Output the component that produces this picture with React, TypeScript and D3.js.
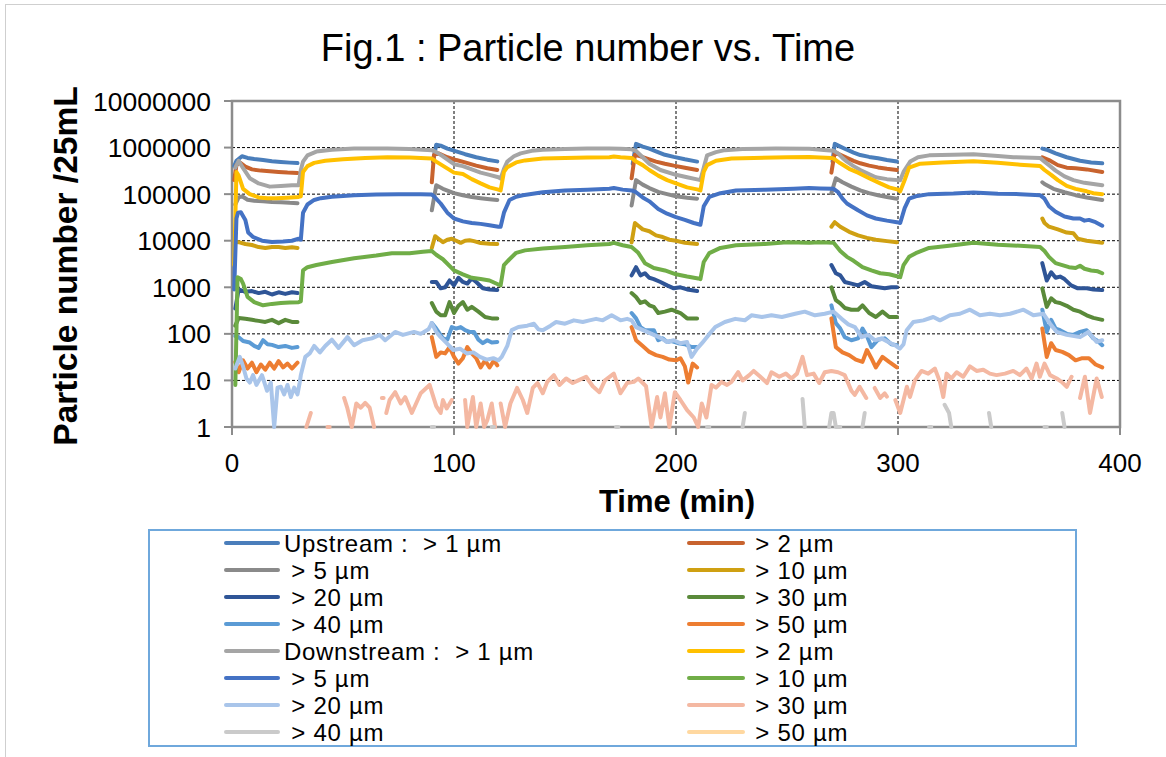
import React from 'react';
import * as d3 from 'd3';

type P = [number, number];

const xTicks = [0, 100, 200, 300, 400];
const yTicks = [1, 10, 100, 1000, 10000, 100000, 1000000, 10000000];
const yTickLabels = ['1', '10', '100', '1000', '10000', '100000', '1000000', '10000000'];

// Upstream
const up1: P[] = [
  [1, 400000], [2, 520000], [4.5, 650000], [7, 600000], [10, 570000], [14, 540000], [18, 510000], [22, 490000], [26, 475000], [29.5, 465000], [30, 0],
  [90.5, 500000], [92, 1150000], [94, 1100000], [97, 950000], [101, 830000], [105, 720000], [110, 620000], [115, 550000], [119.5, 505000], [120, 0],
  [180.5, 450000], [182, 1200000], [185, 1050000], [188, 950000], [191, 830000], [195, 700000], [199, 630000], [204, 560000], [209.5, 500000], [210, 0],
  [270.5, 500000], [271.5, 1200000], [274, 1050000], [277, 900000], [280, 780000], [283, 690000], [287, 630000], [291, 590000], [295, 540000], [299.5, 500000], [300, 0],
  [365, 950000], [367, 900000], [371, 750000], [376, 620000], [382, 520000], [387, 480000], [392, 460000],
];
const up2: P[] = [
  [1, 200000], [2, 420000], [3.5, 480000], [6, 390000], [9, 340000], [13, 320000], [17, 310000], [21, 300000], [25, 290000], [29.5, 285000], [30, 0],
  [90, 180000], [91, 700000], [93, 750000], [97, 620000], [101, 540000], [105, 480000], [110, 410000], [115, 360000], [119.5, 330000], [120, 0],
  [180, 220000], [181.5, 700000], [184, 650000], [188, 560000], [191, 500000], [195, 450000], [199, 410000], [204, 370000], [209.5, 330000], [210, 0],
  [270, 290000], [271.5, 800000], [274, 700000], [277, 600000], [280, 520000], [283, 460000], [287, 410000], [291, 375000], [295, 350000], [299.5, 330000], [300, 0],
  [365, 620000], [368, 540000], [372, 420000], [376, 370000], [380, 360000], [385, 340000], [392, 300000],
];
const up5: P[] = [
  [1.5, 60000], [3, 85000], [4.5, 90000], [7, 76000], [10, 72000], [14, 70000], [18, 68000], [22, 67000], [26, 65000], [29.5, 64000], [30, 0],
  [90, 45000], [92, 155000], [95, 130000], [100, 105000], [104, 95000], [108, 87000], [112, 82000], [116, 78000], [119.5, 75000], [120, 0],
  [180, 57000], [182, 200000], [185, 160000], [188, 135000], [192, 112000], [196, 100000], [200, 90000], [205, 84000], [209.5, 80000], [210, 0],
  [270, 105000], [272, 220000], [275, 180000], [279, 145000], [283, 120000], [287, 105000], [291, 95000], [295, 87000], [299.5, 80000], [300, 0],
  [365, 180000], [366, 165000], [370, 130000], [375, 110000], [380, 95000], [385, 85000], [392, 75000],
];
const up10: P[] = [
  [1.5, 9500], [3, 9300], [6, 8500], [9, 8100], [12, 7300], [15, 7000], [18, 7300], [21, 7300], [24, 7000], [27, 7200], [29.5, 7000], [30, 0],
  [90, 7000], [91.5, 12500], [93, 11000], [95, 9300], [97, 10500], [99, 11000], [101, 10000], [103, 9000], [105, 10000], [107, 10200], [109, 9800], [112, 8900], [116, 8600], [119.5, 8500], [120, 0],
  [180, 9200], [181.5, 24000], [183, 21000], [185, 17500], [188, 16000], [191, 13000], [194, 12000], [197, 10500], [200, 10000], [204, 9000], [209.5, 8500], [210, 0],
  [270, 20000], [271.5, 25000], [274, 20000], [278, 15500], [282, 13000], [286, 11500], [290, 10500], [295, 9800], [299.5, 9300], [300, 0],
  [365, 30000], [366, 24000], [368, 20000], [372, 17500], [376, 15000], [379, 14500], [381, 11000], [385, 10000], [392, 9000],
];
const up20: P[] = [
  [1.5, 350], [3, 900], [6, 800], [9, 830], [12, 750], [15, 800], [18, 700], [21, 780], [24, 720], [27, 780], [29.5, 750], [30, 0],
  [90, 1300], [92, 1300], [94, 950], [96, 1000], [98, 1400], [100, 1100], [102, 1600], [104, 1300], [106, 1200], [108, 1550], [110, 1300], [113, 950], [116, 900], [119.5, 870], [120, 0],
  [180, 1800], [182, 2700], [184, 1800], [186, 2000], [188, 1600], [190, 1500], [193, 1300], [196, 1100], [199, 950], [202, 1000], [205, 900], [209.5, 830], [210, 0],
  [270, 3000], [272, 2000], [274, 1800], [276, 1300], [279, 1200], [282, 1100], [285, 1300], [288, 1050], [291, 1000], [294, 950], [297, 1000], [299.5, 1000], [300, 0],
  [365, 3300], [367, 1400], [369, 2100], [371, 1600], [373, 1700], [375, 1500], [378, 1100], [381, 950], [385, 950], [388, 900], [392, 870],
];
const up30: P[] = [
  [1.5, 150], [3, 220], [6, 210], [9, 200], [12, 190], [15, 180], [18, 200], [21, 170], [24, 200], [27, 180], [29.5, 180], [30, 0],
  [90, 460], [92, 300], [94, 250], [96, 250], [98, 480], [100, 280], [102, 400], [104, 480], [106, 330], [108, 380], [111, 300], [114, 230], [117, 215], [119.5, 215], [120, 0],
  [180, 750], [182, 620], [184, 460], [186, 500], [188, 410], [190, 380], [192, 280], [195, 300], [198, 330], [202, 280], [205, 215], [209.5, 215], [210, 0],
  [270, 1000], [272, 530], [274, 450], [276, 360], [279, 330], [282, 330], [284, 410], [287, 280], [290, 230], [293, 300], [296, 230], [299.5, 230], [300, 0],
  [365, 950], [367, 380], [369, 580], [371, 480], [373, 460], [376, 400], [379, 330], [382, 300], [385, 250], [388, 220], [392, 200],
];
const up40: P[] = [
  [1.5, 90], [3, 85], [5, 70], [8, 65], [10, 55], [12, 50], [14, 73], [16, 60], [18, 58], [21, 52], [24, 55], [27, 50], [29.5, 52], [30, 0],
  [90, 170], [92, 130], [95, 80], [97, 75], [99, 140], [101, 130], [103, 140], [105, 120], [107, 110], [109, 110], [111, 75], [113, 63], [115, 73], [117, 65], [119.5, 67], [120, 0],
  [180, 280], [182, 215], [184, 140], [186, 120], [188, 120], [190, 120], [192, 73], [194, 80], [196, 67], [198, 70], [201, 63], [204, 60], [207, 52], [209.5, 52], [210, 0],
  [270, 410], [272, 170], [274, 130], [276, 85], [279, 73], [282, 80], [284, 130], [286, 90], [288, 52], [291, 75], [294, 80], [297, 60], [299.5, 57], [300, 0],
  [365, 330], [367, 110], [369, 200], [371, 130], [373, 120], [376, 100], [379, 95], [382, 110], [385, 120], [388, 80], [390, 70], [392, 57],
];
const up50: P[] = [
  [1.5, 25], [3, 15], [5, 27], [7, 18], [9, 24], [11, 15], [13, 22], [15, 17], [17, 24], [19, 18], [21, 26], [23, 19], [25, 23], [27, 18], [29.5, 24], [30, 0],
  [90, 85], [92, 32], [94, 40], [96, 38], [98, 52], [100, 32], [102, 23], [104, 30], [106, 52], [108, 38], [110, 30], [112, 19], [114, 27], [116, 19], [118, 27], [119.5, 21], [120, 0],
  [180, 140], [182, 73], [185, 55], [188, 41], [191, 35], [194, 32], [197, 28], [200, 27], [202, 30], [204, 20], [205.5, 9], [207.5, 23], [209.5, 19], [210, 0],
  [270, 215], [272, 52], [275, 40], [278, 35], [281, 28], [284, 25], [286, 45], [288, 30], [290, 19], [293, 32], [296, 25], [299.5, 19], [300, 0],
  [365, 130], [367, 32], [369, 63], [371, 45], [374, 41], [377, 35], [380, 27], [383, 30], [386, 30], [389, 22], [392, 19],
];

// Downstream
const dn1: P[] = [
  [1.5, 370000], [3, 520000], [5, 360000], [8, 220000], [12, 170000], [17, 145000], [22, 150000], [27, 155000], [30, 155000],
  [31, 330000], [32, 500000], [34, 680000], [38, 820000], [45, 900000], [55, 950000], [70, 950000], [80, 930000], [90, 880000],
  [92, 800000], [95, 650000], [100, 440000], [104, 400000], [108, 340000], [112, 290000], [116, 260000], [120, 230000], [121, 215000],
  [122.5, 350000], [124, 500000], [127, 650000], [130, 750000], [135, 850000], [140, 900000], [150, 930000], [160, 950000], [170, 950000], [175, 940000], [180, 920000],
  [182, 850000], [185, 620000], [188, 450000], [193, 330000], [200, 260000], [205, 230000], [210, 205000], [211, 200000],
  [212.5, 370000], [214, 680000], [218, 800000], [222, 880000], [230, 930000], [245, 950000], [260, 940000], [268, 880000], [271, 850000],
  [273, 750000], [275, 600000], [277, 500000], [280, 400000], [283, 330000], [290, 230000], [295, 210000], [300, 200000], [301, 198000],
  [302.5, 300000], [305.5, 500000], [309, 620000], [314, 680000], [325, 700000], [334, 720000], [345, 660000], [352, 620000], [364, 600000],
  [366, 500000], [368, 420000], [371, 320000], [375, 240000], [379, 200000], [384, 175000], [388, 165000], [392, 155000],
];
const dn2: P[] = [
  [1, 3000], [2, 300000], [3, 250000], [5, 130000], [8, 100000], [12, 85000], [16, 82000], [20, 82000], [25, 84000], [30, 87000], [31, 90000],
  [32, 300000], [34, 400000], [37, 470000], [42, 520000], [50, 560000], [60, 600000], [70, 620000], [80, 610000], [90, 580000],
  [92, 500000], [96, 380000], [100, 290000], [104, 270000], [108, 210000], [112, 170000], [116, 140000], [120, 125000], [121, 120000],
  [122.5, 300000], [124, 380000], [128, 480000], [132, 530000], [140, 580000], [150, 600000], [160, 610000], [170, 620000], [172, 640000], [175, 620000], [180, 600000],
  [182, 500000], [185, 420000], [188, 330000], [192, 250000], [196, 200000], [200, 170000], [205, 140000], [210, 125000], [211, 120000],
  [212.5, 300000], [214, 420000], [218, 520000], [225, 580000], [235, 600000], [250, 620000], [260, 630000], [270, 600000], [271, 580000],
  [274, 460000], [278, 350000], [282, 290000], [287, 220000], [292, 170000], [296, 140000], [300, 125000], [301, 115000],
  [303, 200000], [305, 370000], [310, 450000], [320, 480000], [334, 510000], [345, 470000], [355, 430000], [364, 400000],
  [366, 330000], [369, 260000], [372, 200000], [376, 150000], [380, 130000], [385, 115000], [388, 105000], [392, 100000],
];
const dn5: P[] = [
  [1, 900], [2, 30000], [2.7, 40000], [4, 41000], [6, 28000], [7.3, 15000], [9.5, 12000], [13.5, 10000], [18, 9400], [23, 9600], [27, 10000], [30, 11000], [31, 10500],
  [32, 40000], [34, 60000], [37, 75000], [40, 82000], [45, 88000], [55, 95000], [65, 98000], [75, 100000], [85, 100000], [90, 98000],
  [91, 90000], [94, 63000], [97, 40000], [100, 30000], [104, 26000], [108, 24000], [112, 23000], [116, 21500], [120, 20000], [121, 20000],
  [122.5, 40000], [125, 75000], [128, 88000], [131, 95000], [140, 110000], [150, 120000], [160, 125000], [170, 130000], [172, 135000], [176, 125000], [180, 120000],
  [182, 110000], [185, 85000], [188, 70000], [192, 48000], [196, 38000], [200, 32000], [204, 28000], [208, 24000], [211, 22000],
  [212.5, 55000], [215, 87000], [220, 105000], [227, 120000], [240, 125000], [253, 130000], [260, 135000], [265, 132000], [271, 130000],
  [273, 110000], [275, 80000], [277, 63000], [279, 55000], [282, 45000], [286, 35000], [290, 30000], [295, 27000], [299.5, 25000], [301, 24000],
  [303, 50000], [305, 80000], [308, 90000], [314, 100000], [325, 103000], [334, 108000], [345, 102000], [355, 100000], [364, 95000],
  [366, 80000], [368, 55000], [371, 42000], [375, 33000], [379, 30000], [382, 30000], [384, 27000], [386, 28000], [389, 25000], [392, 21000],
];
const dn10: P[] = [
  [1.5, 8], [2.5, 1650], [4, 1500], [5, 1200], [7, 620], [10, 480], [14, 410], [18, 440], [22, 460], [26, 470], [30, 480], [31, 500],
  [32, 2300], [34, 2700], [38, 3000], [45, 3500], [55, 4200], [65, 4800], [72, 5400], [80, 5400], [86, 5800], [90, 6000],
  [92, 5000], [95, 4000], [100, 2300], [104, 1900], [108, 1600], [112, 1500], [116, 1400], [120, 1150], [121, 1100],
  [122.5, 3000], [125, 4000], [128, 5500], [132, 6200], [140, 6800], [150, 7300], [160, 8000], [170, 8500], [172, 9000], [176, 8000], [180, 7300],
  [183, 5500], [186, 3300], [190, 2600], [195, 2300], [200, 1900], [205, 1700], [210, 1550], [211, 1500],
  [212.5, 3500], [215, 5400], [220, 7000], [227, 8000], [240, 8500], [250, 9300], [260, 9000], [265, 9300], [271, 9000],
  [274, 6000], [277, 4500], [280, 3700], [284, 2700], [288, 2300], [292, 2000], [296, 1900], [300, 1700], [301, 1650],
  [302.5, 3000], [305, 4500], [308, 5400], [314, 7000], [325, 8000], [334, 9000], [345, 8200], [355, 7800], [364, 7300],
  [366, 6000], [368, 4500], [371, 3300], [374, 3000], [377, 2700], [380, 2600], [382, 2900], [384, 2500], [387, 2300], [390, 2200], [392, 2000],
];
const dn20: P[] = [
  [1.5, 18], [3.5, 32], [5, 20], [6.5, 11], [8, 9], [9.5, 13], [11, 8], [13.5, 13], [15.8, 6], [17.5, 9], [19, 1], [20.5, 7], [22, 7.3], [23.5, 5], [25, 8], [26.5, 4.4], [28, 7], [29.5, 5], [30.5, 9],
  [31, 13], [33, 32], [35, 38], [37, 55], [39.6, 40], [42, 55], [45, 75], [48, 50], [52, 85], [55, 57], [58.8, 73], [63, 80], [66.5, 95], [69, 73], [73.5, 110], [77, 95], [82, 110], [85, 100], [88.5, 125], [90, 170],
  [92, 110], [94, 85], [96.7, 63], [99.7, 45], [102.7, 48], [105.7, 38], [108.7, 40], [111.7, 32], [114.7, 28], [117.7, 30], [120, 27], [121.5, 32],
  [124, 55], [126, 120], [129, 140], [133, 150], [136, 165], [138, 125], [140, 120], [143.5, 150], [146, 180], [150, 165], [154, 195], [158, 180], [161, 195], [164, 210], [167, 195], [171, 250], [175, 195], [178, 210], [180, 195],
  [182, 140], [187, 110], [193, 82], [196, 67], [199, 73], [202, 63], [205, 67], [207, 32], [209.5, 48], [211.7, 63],
  [214.7, 95], [217.7, 140], [222, 180], [226.7, 210], [231, 195], [234, 250], [238.7, 230], [243, 250], [247.7, 230], [253.7, 270], [258, 300], [262.6, 250], [267, 270], [271, 300],
  [274.6, 210], [277.6, 160], [280.6, 140], [283.6, 85], [286.6, 95], [289.6, 73], [292.6, 80], [295.6, 67], [298.6, 57], [300.8, 48], [302.5, 60],
  [303.9, 120], [306.9, 180], [311.4, 195], [315.9, 230], [318.9, 195], [323.4, 250], [327.9, 270], [332.4, 330], [336.9, 250], [341.4, 270], [345.9, 250], [350.5, 270], [356.5, 330], [361, 250], [365.5, 270],
  [368.5, 165], [371.5, 110], [376, 95], [382, 85], [385.8, 110], [389.5, 67], [392, 73],
];
const dn30: P[] = [
  [33.5, 1], [35.5, 2], [36, 0],
  [43, 1], [44, 1], [44.5, 0],
  [50.5, 4.2], [52, 2.5], [54, 1], [56, 3.2], [58, 2.6], [60, 3.3], [62, 2.6], [64, 1], [65, 0],
  [67.5, 4.2], [68.3, 4.2], [68.8, 0],
  [69.5, 2], [71, 3.8], [73.5, 5.6], [76, 3.2], [78, 4.4], [81, 2], [85, 5.3], [89, 8], [92, 2.8], [94, 2], [95, 3.8], [96.7, 2.5], [99, 3.8], [100, 0],
  [105, 3.8], [106, 1], [108.5, 4.4], [110, 1], [112, 3.2], [113.6, 1], [115, 1.4], [117, 3.2], [118.5, 1], [119, 0],
  [121, 3.2], [123, 1], [125.4, 3.2], [128.4, 6.9], [131, 3.8], [133, 2], [135.5, 6.9], [137.6, 8.8], [140, 5.3], [142, 9.3], [145, 13], [147.5, 8], [150.5, 11], [153.5, 8.8], [156, 10], [159.5, 12], [162.5, 7.5], [165.5, 5.6], [168, 10], [172, 14], [175, 5.3], [178, 8.8], [181, 9.3], [183, 11], [186.5, 7.5],
  [189, 1], [191.5, 4.4], [193, 1.6], [195, 5.3], [197, 1], [199.5, 5.6], [202, 3.8], [205, 2.3], [208, 1.6], [210, 1], [211.6, 3.2], [213.7, 1.6],
  [216, 8], [218, 7], [220.5, 9.3], [223, 8], [225, 9.3], [228, 15], [230, 10], [233, 13], [235, 16], [238, 12], [241, 8.8], [243, 15], [246.5, 12], [249.5, 14], [252, 11], [254.5, 14], [257, 32], [259, 13], [262, 14], [264.5, 8.8], [267, 15], [270, 16], [273, 15], [276, 13],
  [279, 6], [280.5, 4.9], [282.7, 7.3], [285.7, 4.2], [286.5, 0],
  [289.5, 6.9], [292, 4.2], [294, 5.3], [295, 4.5], [296, 0],
  [298.8, 3.8], [301, 2], [304, 7.3], [305.4, 4.4], [307.6, 10], [310.6, 16], [313.6, 14], [316.6, 18], [318.9, 9.3], [320.4, 4.4], [321.9, 14], [324, 11], [326.4, 15], [329.4, 12], [332.4, 20], [335.4, 16], [338.4, 17], [341.4, 14], [344.4, 13], [348.2, 14], [351.9, 16], [354.9, 13], [357.9, 18], [360.2, 11], [362.4, 23], [363.9, 12], [366, 23], [368.5, 13], [371.5, 11], [373.7, 9.3], [376, 7.3], [378.2, 12], [379, 0],
  [382, 4.2], [384.2, 12], [386.5, 2], [389.5, 11], [391.8, 4.4],
];
const dn40: P[] = [
  [90, 1], [91, 1], [92, 0],
  [117, 1], [118, 1], [119, 0],
  [173, 1], [174, 1], [175, 0],
  [214, 1], [215, 1], [216, 0],
  [230, 1], [231, 2], [232, 0],
  [257, 4], [258, 1], [259, 0],
  [269, 1], [270, 2], [271, 2], [272, 1], [273, 1], [274, 1], [275, 0],
  [284, 1], [285, 2], [286, 0],
  [314, 1], [315, 1], [316, 0],
  [321, 3], [323, 2], [324, 1], [325, 0],
  [341, 2], [342, 1], [343, 0],
  [366, 1], [367, 1], [368, 0],
  [374, 2], [375, 1], [376, 0],
];
const dn50: P[] = [];

const seriesNames = [
  'Upstream :  > 1 µm', ' > 2 µm', ' > 5 µm', ' > 10 µm', ' > 20 µm', ' > 30 µm', ' > 40 µm', ' > 50 µm',
  'Downstream :  > 1 µm', ' > 2 µm', ' > 5 µm', ' > 10 µm', ' > 20 µm', ' > 30 µm', ' > 40 µm', ' > 50 µm',
];
const seriesData = [up1, up2, up5, up10, up20, up30, up40, up50, dn1, dn2, dn5, dn10, dn20, dn30, dn40, dn50];
const seriesColors = [
  '#4A7EBB', '#C8632E', '#8A8A8A', '#CFA012', '#2F5597', '#5A8A3A', '#5B9BD5', '#ED7D31',
  '#A5A5A5', '#FFC000', '#4472C4', '#70AD47', '#A9C5EA', '#F4B8A2', '#CACACA', '#FFD8A0',
];

const FONT = "'Liberation Sans', Arial, Helvetica, sans-serif";

export default function App() {
  const W = 1166, H = 757;
  const left = 232, right = 1120, top = 101, bottom = 427;
  const x = d3.scaleLinear().domain([0, 400]).range([left, right]);
  const y = d3.scaleLog().domain([1, 10000000]).range([bottom, top]);
  const line = d3.line<P>()
    .defined(d => d[1] >= 1)
    .x(d => x(d[0]))
    .y(d => y(d[1]));

  const legRowY = (i: number) => 543 + i * 27;

  return (
    <svg width={W} height={H} style={{ position: 'absolute', left: 0, top: 0, background: '#fff' }} fontFamily={FONT}>
      <rect x={5.5} y={4.5} width={1200} height={800} fill="#fff" stroke="#CFCFCF" strokeWidth={1} />
      <text x={588} y={61} textAnchor="middle" fontSize={38} fill="#000">Fig.1 : Particle number vs. Time</text>

      {yTicks.slice(1, -1).map(t => (
        <line key={'gy' + t} x1={left} x2={right} y1={y(t)} y2={y(t)} stroke="#000" strokeWidth={1} strokeDasharray="3,2" />
      ))}
      {xTicks.slice(1, -1).map(t => (
        <line key={'gx' + t} x1={x(t)} x2={x(t)} y1={top} y2={bottom} stroke="#000" strokeWidth={1} strokeDasharray="3,2" />
      ))}

      <rect x={left} y={top} width={right - left} height={bottom - top} fill="none" stroke="#8C8C8C" strokeWidth={2.5} />

      {yTicks.map(t => (
        <line key={'ty' + t} x1={left - 8} x2={left} y1={y(t)} y2={y(t)} stroke="#8C8C8C" strokeWidth={2} />
      ))}
      {xTicks.map(t => (
        <line key={'tx' + t} x1={x(t)} x2={x(t)} y1={bottom} y2={bottom + 8} stroke="#8C8C8C" strokeWidth={2} />
      ))}
      {yTicks.map((t, i) => (
        <text key={'ly' + t} x={211} y={y(t)} dy="0.36em" textAnchor="end" fontSize={26.5} fill="#000">{yTickLabels[i]}</text>
      ))}
      {xTicks.map(t => (
        <text key={'lx' + t} x={x(t)} y={472} textAnchor="middle" fontSize={26} fill="#000">{t}</text>
      ))}

      {seriesData.map((d, i) => (
        <path key={'s' + i} d={line(d) || ''} fill="none" stroke={seriesColors[i]} strokeWidth={4}
          strokeLinejoin="round" strokeLinecap="round" />
      ))}

      <text x={677} y={512} textAnchor="middle" fontSize={31} fontWeight="bold" fill="#000">Time (min)</text>
      <text transform="translate(77,266) rotate(-90)" textAnchor="middle" fontSize={33.5} fontWeight="bold" fill="#000">Particle number /25mL</text>

      <rect x={149} y={530} width={927} height={216} fill="#fff" stroke="#6FA8DC" strokeWidth={2} />
      {seriesNames.map((n, i) => {
        const col = i % 2;
        const row = Math.floor(i / 2);
        const ly = legRowY(row);
        const lx1 = col === 0 ? 226 : 689;
        const lx2 = col === 0 ? 278 : 743;
        const tx = col === 0 ? 284 : 748;
        return (
          <g key={'lg' + i}>
            <line x1={lx1} x2={lx2} y1={ly} y2={ly} stroke={seriesColors[i]} strokeWidth={4} strokeLinecap="round" />
            <text x={tx} y={ly} dy="0.36em" fontSize={24} letterSpacing={0.7} fill="#000" style={{ whiteSpace: 'pre' }}>{n}</text>
          </g>
        );
      })}
    </svg>
  );
}
